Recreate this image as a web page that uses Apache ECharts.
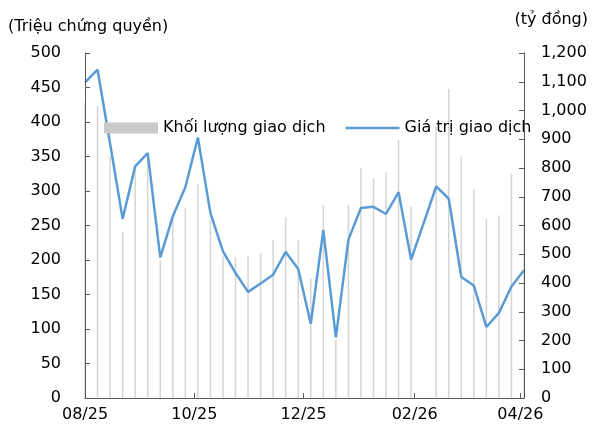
<!DOCTYPE html>
<html>
<head>
<meta charset="utf-8">
<script src="https://cdn.jsdelivr.net/npm/echarts@6/dist/echarts.min.js"></script>
<style>
  html, body { margin: 0; padding: 0; background: #fff; }
  #chart { width: 594px; height: 432px; }
</style>
</head>
<body>
<div id="chart"></div>
<script>
// weekly dates
const weeks = [
  "2025-08-01", "2025-08-08", "2025-08-15", "2025-08-22", "2025-08-29",
  "2025-09-05", "2025-09-12", "2025-09-19", "2025-09-26", "2025-10-03",
  "2025-10-10", "2025-10-17", "2025-10-24", "2025-10-31", "2025-11-07",
  "2025-11-14", "2025-11-21", "2025-11-28", "2025-12-05", "2025-12-12",
  "2025-12-19", "2025-12-26", "2026-01-02", "2026-01-09", "2026-01-16",
  "2026-01-23", "2026-01-30", "2026-02-06", "2026-02-13", "2026-02-20",
  "2026-02-27", "2026-03-06", "2026-03-13", "2026-03-20", "2026-03-27",
  "2026-04-03"
];
// Khối lượng giao dịch (triệu chứng quyền)
const volume = [
  430, 423, 350, 241, 335, 345, 200, 262, 276, 311,
  258, 205, 204, 206, 210, 229, 262, 229, 173, 280,
  85, 280, 333, 318, 327, 374, 277, null, 393, 448,
  350, 302, 260, 265, 325, 290
];
// Giá trị giao dịch (tỷ đồng)
const value = [
  1098, 1142, 885, 623, 806, 852, 489, 632, 733, 906,
  643, 510, 435, 369, 398, 429, 508, 449, 258, 584,
  211, 551, 661, 665, 640, 716, 481, 608, 736, 693,
  421, 391, 247, 296, 388, 444
];
const tickDates = ["2025-08-01", "2025-10-01", "2025-12-01", "2026-02-01", "2026-04-01"];
const tickLabels = ["08/25", "10/25", "12/25", "02/26", "04/26"];

// dates -> timestamps, placed on a plain value axis
const t = (s) => Date.parse(s + "T00:00:00Z");
const tickTimes = tickDates.map(t);

const font = "DejaVu Sans";
const fs = 16;
const axisColor = "#595959";

let chart = echarts.init(document.getElementById("chart"));
let option = {
  animation: false,
  textStyle: { fontFamily: font },
  legend: {
    left: 99,
    top: 115,
    itemGap: 20,
    textStyle: { fontSize: fs, color: "#000", fontFamily: font },
    data: [
      { name: "Khối lượng giao dịch", icon: "rect", itemStyle: { color: "#c8c8c8" } },
      { name: "Giá trị giao dịch", icon: "path://M0,0 L50,0 L50,2.5 L0,2.5 Z" }
    ],
    itemWidth: 54,
    itemHeight: 11
  },
  grid: {
    left: 85,
    right: 70,
    top: 53,
    bottom: 34
  },
  xAxis: {
    type: "value",
    min: t(weeks[0]),
    max: t(weeks[weeks.length - 1]),
    splitLine: { show: false },
    axisLine: { lineStyle: { color: axisColor, width: 1 } },
    axisTick: {
      show: true,
      inside: true,
      length: 5,
      customValues: tickTimes,
      lineStyle: { color: axisColor }
    },
    axisLabel: {
      customValues: tickTimes,
      color: "#000",
      fontSize: fs,
      margin: 9,
      formatter: (v) => {
        let i = tickTimes.indexOf(v);
        return i >= 0 ? tickLabels[i] : "";
      }
    }
  },
  yAxis: [
    {
      type: "value",
      min: 0,
      max: 500,
      interval: 50,
      name: "(Triệu chứng quyền)",
      nameLocation: "end",
      nameGap: 18,
      nameTextStyle: {
        color: "#000",
        fontSize: fs,
        align: "left",
        padding: [0, 0, 0, -77]
      },
      z: 5,
      splitLine: { show: false },
      axisLine: { show: true, lineStyle: { color: axisColor, width: 1 } },
      axisTick: { show: true, inside: true, length: 5, lineStyle: { color: axisColor } },
      axisLabel: { color: "#000", fontSize: fs, margin: 24 }
    },
    {
      type: "value",
      min: 0,
      max: 1200,
      interval: 100,
      name: "(tỷ đồng)",
      nameLocation: "end",
      nameGap: 25,
      nameTextStyle: {
        color: "#000",
        fontSize: fs,
        align: "right",
        padding: [0, -64, 0, 0]
      },
      z: 5,
      splitLine: { show: false },
      axisLine: { show: true, lineStyle: { color: axisColor, width: 1 } },
      axisTick: { show: true, inside: true, length: 5, lineStyle: { color: axisColor } },
      axisLabel: {
        color: "#000",
        fontSize: fs,
        margin: 17,
        formatter: (v) => v.toLocaleString("en-US")
      }
    }
  ],
  series: [
    {
      name: "Khối lượng giao dịch",
      type: "bar",
      yAxisIndex: 0,
      barWidth: 1.5,
      itemStyle: { color: "#d4d4d4" },
      data: weeks.map((d, i) => [t(d), volume[i]])
    },
    {
      name: "Giá trị giao dịch",
      type: "line",
      yAxisIndex: 1,
      symbol: "none",
      connectNulls: true,
      lineStyle: { color: "#5b9bd5", width: 2.5 },
      itemStyle: { color: "#5b9bd5" },
      data: weeks.map((d, i) => [t(d), value[i]])
    }
  ]
};
chart.setOption(option);
</script>
</body>
</html>
